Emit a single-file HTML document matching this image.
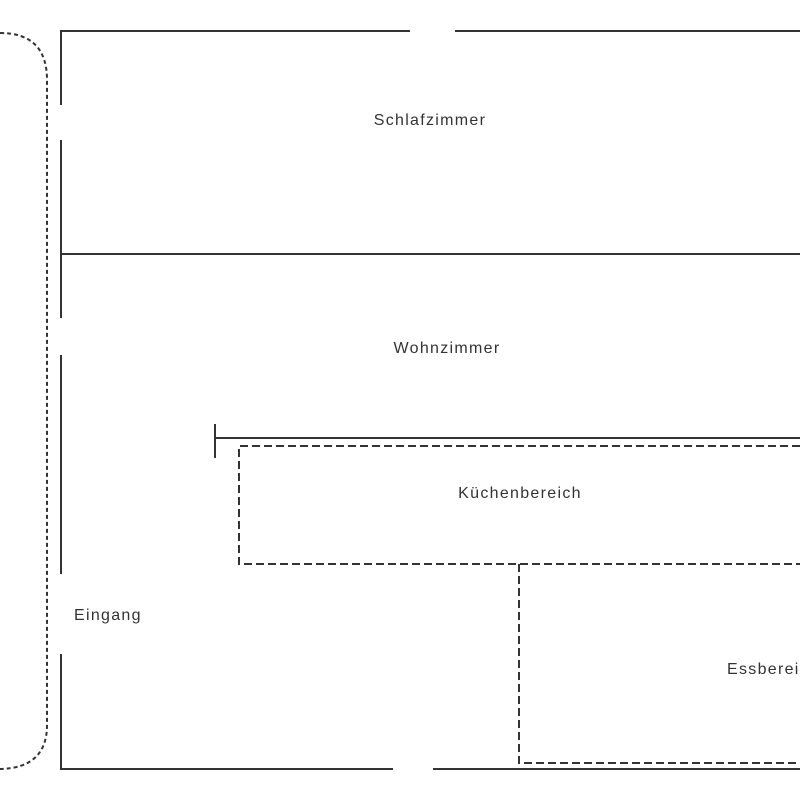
<!DOCTYPE html>
<html><head><style>body{margin:0;background:#fff}</style></head><body>
<svg width="800" height="800" xmlns="http://www.w3.org/2000/svg">
<g stroke="#333" stroke-width="2" fill="none">
<path d="M0 33 Q47 33 47 80 L47 725 Q47 768 0 769" stroke-dasharray="4,3"/>
<line x1="61" y1="31" x2="61" y2="105"/>
<line x1="61" y1="140" x2="61" y2="318"/>
<line x1="61" y1="355" x2="61" y2="574"/>
<line x1="61" y1="654" x2="61" y2="770"/>
<line x1="60" y1="31" x2="410" y2="31"/>
<line x1="455" y1="31" x2="800" y2="31"/>
<line x1="60" y1="769" x2="393" y2="769"/>
<line x1="433" y1="769" x2="800" y2="769"/>
<line x1="61" y1="254" x2="800" y2="254"/>
<line x1="215" y1="438" x2="800" y2="438"/>
<line x1="215" y1="424" x2="215" y2="458"/>
<path d="M800 446 L239 446 L239 564 L800 564" stroke-dasharray="8,4"/>
<path d="M519 564 L519 763 L800 763" stroke-dasharray="8,4"/>
</g>
<g font-family="Liberation Sans, sans-serif" font-size="16" fill="#333" letter-spacing="1.3">
<text x="430" y="125" text-anchor="middle">Schlafzimmer</text>
<text x="447" y="353" text-anchor="middle">Wohnzimmer</text>
<text x="520" y="498" text-anchor="middle">Küchenbereich</text>
<text x="74" y="620">Eingang</text>
<text x="727" y="674">Essbereich</text>
</g>
</svg>
</body></html>
